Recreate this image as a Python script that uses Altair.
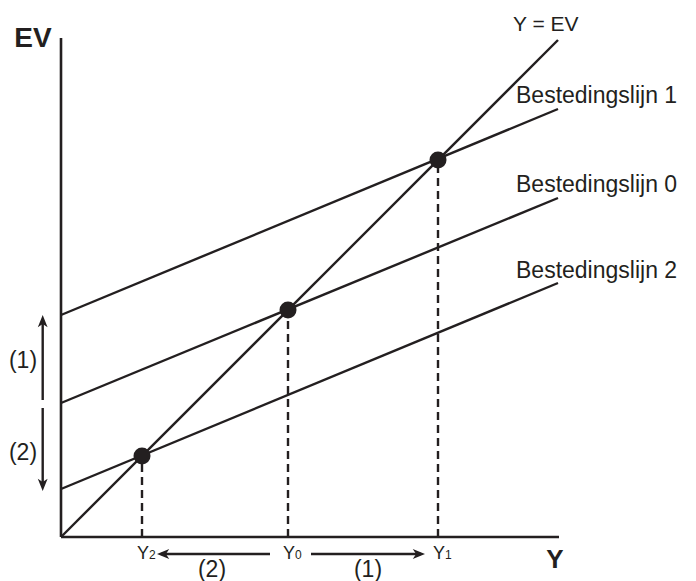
import altair as alt
import pandas as pd

# ---- data (units: Y on x, EV on y) ----
X_END = 497
line_names = ["Y = EV", "Bestedingslijn 1", "Bestedingslijn 0", "Bestedingslijn 2"]
line_start = [0, 222, 134, 48]      # EV at Y = 0
line_end = [497, 428, 339, 254]     # EV at Y = X_END
label_pos_y = [512, 441, 352, 266]  # vertical position of line labels
label_pos_x = [452, 455, 455, 455]
label_size = [21, 23, 23, 23]

eq_subs = ["2", "0", "1"]
eq_values = [81, 227, 377]          # equilibria Y2, Y0, Y1

shift_labels = ["(1)", "(2)"]

FONT = "Liberation Sans"
INK = "#231f20"

XS = alt.Scale(domain=[-53, 627])
YS = alt.Scale(domain=[-44, 529])


def xq(f="x"):
    return alt.X(f"{f}:Q", scale=XS, axis=None)


def yq(f="y"):
    return alt.Y(f"{f}:Q", scale=YS, axis=None)


# axes
axes_df = pd.DataFrame({"x": [0, 0], "y": [0, 0], "x2": [0, 498], "y2": [499, 0]})
axes = alt.Chart(axes_df).mark_rule(color=INK, strokeWidth=2.6).encode(
    x=xq(), y=yq(), x2="x2:Q", y2="y2:Q")

# lines
lines_df = pd.DataFrame({"name": line_names, "x": [0] * 4, "y": line_start,
                         "x2": [X_END] * 4, "y2": line_end})
lines = alt.Chart(lines_df).mark_rule(color=INK, strokeWidth=2.4).encode(
    x=xq(), y=yq(), x2="x2:Q", y2="y2:Q")

# dashed drop lines
eq_df = pd.DataFrame({"sub": eq_subs, "x": eq_values, "y": eq_values, "y0": [0] * 3})
drops = alt.Chart(eq_df).mark_rule(color=INK, strokeWidth=2.4, strokeDash=[8, 5]).encode(
    x=xq(), y=yq("y0"), y2="y:Q")
dots = alt.Chart(eq_df).mark_circle(color=INK, size=290, opacity=1).encode(
    x=xq(), y=yq())

# line labels
lab_df = pd.DataFrame({"text": line_names, "x": label_pos_x, "y": label_pos_y,
                       "fs": label_size})
labels = alt.Chart(lab_df).mark_text(
    font=FONT, align="left", baseline="middle", color=INK
).encode(x=xq(), y=yq(), text="text:N", size=alt.Size("fs:Q", scale=None))

# axis titles
tit_df = pd.DataFrame({"text": ["EV", "Y"], "x": [-28, 494], "y": [498, -23],
                       "fs": [28, 26]})
titles = alt.Chart(tit_df).mark_text(
    font=FONT, fontWeight="bold", align="center", baseline="middle", color=INK
).encode(x=xq(), y=yq(), text="text:N", size=alt.Size("fs:Q", scale=None))

# Y subscript labels
ylab = alt.Chart(eq_df).mark_text(
    font=FONT, fontSize=18, align="right", baseline="alphabetic", color=INK, dx=7
).encode(x=xq(), y=alt.Y("yl:Q", scale=YS, axis=None), text=alt.value("Y")).transform_calculate(yl="-22")
ysub = alt.Chart(eq_df).mark_text(
    font=FONT, fontSize=12, align="left", baseline="alphabetic", color=INK, dx=7
).encode(x=xq(), y=alt.Y("yl:Q", scale=YS, axis=None), text="sub:N").transform_calculate(yl="-22")

# shift arrows
arr_df = pd.DataFrame({
    "x": [-18.3, -18.3, 209, 250],
    "y": [137, 129, -17, -17],
    "x2": [-18.3, -18.3, 100, 360],
    "y2": [216, 52, -17, -17],
})
arr_lines = alt.Chart(arr_df).mark_rule(color=INK, strokeWidth=2.4).encode(
    x=xq(), y=yq(), x2="x2:Q", y2="y2:Q")
head_df = pd.DataFrame({
    "x": [-18.3, -18.3, 96, 364],
    "y": [222, 46, -17, -17],
    "angle": [270, 90, 180, 0],
})
heads = alt.Chart(head_df).mark_point(
    shape="M0,0L-2,-0.8L-1.45,0L-2,0.8Z", filled=True, color=INK, size=150, opacity=1
).encode(x=xq(), y=yq(), angle=alt.Angle("angle:Q", scale=None))

shift_df = pd.DataFrame({"text": shift_labels + shift_labels,
                         "x": [-38, -38, 307, 151], "y": [176, 84, -33, -33]})
shifts = alt.Chart(shift_df).mark_text(
    font=FONT, fontSize=23, align="center", baseline="middle", color=INK
).encode(x=xq(), y=yq(), text="text:N")

chart = alt.layer(
    axes, lines, drops, dots, labels, titles, ylab, ysub, arr_lines, heads, shifts
).properties(
    width=680, height=573, padding=0,
    autosize=alt.AutoSizeParams(type="none"),
    background="white",
).configure_view(stroke=None)

chart.save("out.html", embed_options={"renderer": "svg", "actions": False})
